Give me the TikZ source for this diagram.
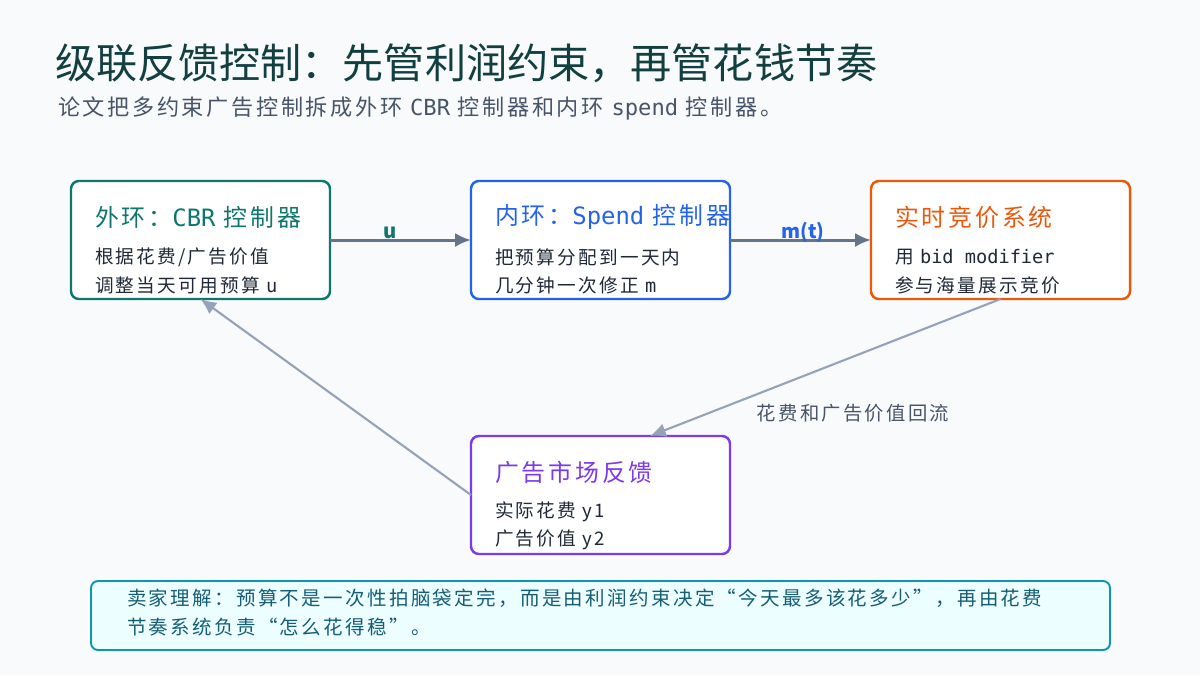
\documentclass[tikz,border=0pt]{standalone}
\usepackage{fontspec}
\setmainfont[LetterSpace=12]{Noto Sans CJK SC}
\newfontfamily\headfont{Noto Sans CJK SC}
\newfontfamily\monofont{DejaVu Sans Mono}
\usetikzlibrary{arrows.meta}

\definecolor{bgcol}{HTML}{F8FAFC}
\definecolor{titlecol}{HTML}{123F40}
\definecolor{subcol}{HTML}{475569}
\definecolor{bodycol}{HTML}{1F2937}
\definecolor{outercol}{HTML}{0F766E}
\definecolor{innercol}{HTML}{2563EB}
\definecolor{rtbcol}{HTML}{EA580C}
\definecolor{mktcol}{HTML}{7C3AED}
\definecolor{notecol}{HTML}{0E96B0}
\definecolor{notefill}{HTML}{ECFEFF}
\definecolor{notetext}{HTML}{155E75}
\definecolor{fwdcol}{HTML}{64748B}
\definecolor{backcol}{HTML}{94A3B8}

\begin{document}
\begin{tikzpicture}[
  every node/.style={inner sep=0pt, outer sep=0pt},
  box/.style={draw, line width=1.4pt, rounded corners=4.5pt, fill=white, minimum width=5.18cm, minimum height=2.36cm},
  boxtitle/.style={anchor=west, font=\fontsize{13.6}{16}\selectfont},
  boxbody/.style={anchor=west, text=bodycol, font=\fontsize{10.6}{12}\selectfont},
  fwd/.style={draw=fwdcol, line width=1.7pt, -{Latex[length=9pt, width=8pt]}},
  back/.style={draw=backcol, line width=1.2pt, -{Latex[length=9pt, width=8pt]}}
]
\useasboundingbox[fill=bgcol] (0,0) rectangle (24,-13.5);

% Heading
\node[anchor=west, text=titlecol, font=\headfont\fontsize{23.4}{27}\selectfont] (head) at (1.10,-1.26) {级联反馈控制：先管利润约束，再管花钱节奏};
\node[anchor=west, text=subcol, font=\fontsize{12.6}{14}\selectfont] (sub) at (1.16,-2.16) {论文把多约束广告控制拆成外环 {\monofont CBR} 控制器和内环 {\monofont spend} 控制器。};

% Boxes
\node[box, draw=outercol] (outer) at (4.01,-4.80) {};
\node[box, draw=innercol] (inner) at (12.01,-4.80) {};
\node[box, draw=rtbcol] (rtb) at (20.01,-4.80) {};
\node[box, draw=mktcol] (mkt) at (12.01,-9.90) {};

% Outer loop text
\node[boxtitle, text=outercol] (outert) at (1.90,-4.34) {外环：{\monofont CBR} 控制器};
\node[boxbody] (outerb1) at (1.90,-5.14) {根据花费/广告价值};
\node[boxbody] (outerb2) at (1.90,-5.70) {调整当天可用预算 {\monofont u}};

% Inner loop text
\node[boxtitle, text=innercol] (innert) at (9.90,-4.34) {内环：{\monofont Spend} 控制器};
\node[boxbody] (innerb1) at (9.90,-5.14) {把预算分配到一天内};
\node[boxbody] (innerb2) at (9.90,-5.70) {几分钟一次修正 {\monofont m}};

% Bidding system text
\node[boxtitle, text=rtbcol] (rtbt) at (17.90,-4.34) {实时竞价系统};
\node[boxbody] (rtbb1) at (17.90,-5.14) {用 {\monofont bid modifier}};
\node[boxbody] (rtbb2) at (17.90,-5.70) {参与海量展示竞价};

% Market feedback text
\node[boxtitle, text=mktcol] (mktt) at (9.90,-9.44) {广告市场反馈};
\node[boxbody] (mktb1) at (9.90,-10.24) {实际花费 y1};
\node[boxbody] (mktb2) at (9.90,-10.80) {广告价值 y2};

% Note
\node[draw=notecol, line width=1.1pt, fill=notefill, rounded corners=4pt, minimum width=20.38cm, minimum height=1.38cm] (note) at (12.01,-12.31) {};
\node[anchor=north west, text=notetext, align=left, font=\fontsize{11.1}{16.5}\selectfont] (notet) at (2.54,-11.78) {卖家理解：预算不是一次性拍脑袋定完，而是由利润约束决定“今天最多该花多少”，再由花费\\节奏系统负责“怎么花得稳”。};

% Connectors
\coordinate (mktin) at (13.00,-8.72);
\draw[fwd] (outer) -- (inner);
\draw[fwd] (inner) -- (rtb);
\draw[back] (rtb.south) -- (mktin);
\draw[back] (mkt.west) -- (outer.south);

% Labels
\node[text=outercol, font=\headfont\bfseries\fontsize{11.5}{13}\selectfont] (ulab) at (7.80,-4.66) {u};
\node[text=innercol, font=\headfont\bfseries\fontsize{11}{13}\selectfont] (mlab) at (16.06,-4.64) {m(t)};
\node[text=subcol, font=\fontsize{11}{12}\selectfont] (flab) at (17.06,-8.26) {花费和广告价值回流};

\end{tikzpicture}
\end{document}
